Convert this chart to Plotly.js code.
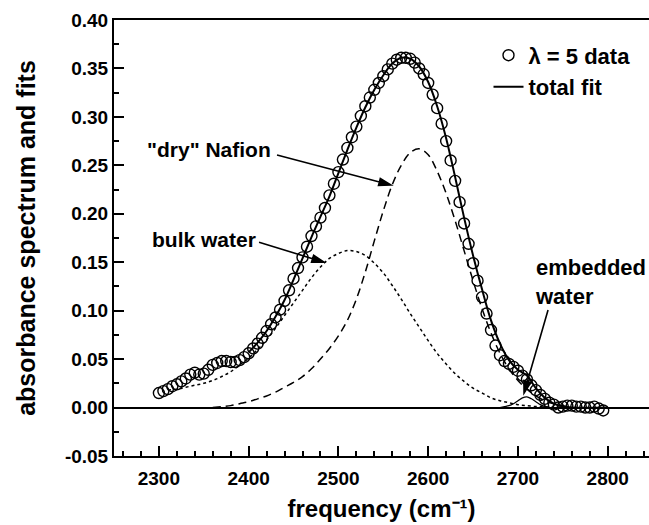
<!DOCTYPE html>
<html>
<head>
<meta charset="utf-8">
<script src="https://cdn.plot.ly/plotly-3.0.1.min.js"></script>
<style>html,body{margin:0;padding:0;background:#fff;}#chart{width:649px;height:525px;}</style>
</head>
<body>
<div id="chart"></div>
<script>
// measured spectrum (lambda = 5)
const dataX = [2300,2305,2310,2315,2320,2325,2330,2335,2340,2345,
  2350,2355,2360,2365,2370,2375,2380,2385,2390,2395,
  2400,2405,2410,2415,2420,2425,2430,2435,2440,2445,
  2450,2455,2460,2465,2470,2475,2480,2485,2490,2495,
  2500,2505,2510,2515,2520,2525,2530,2535,2540,2545,
  2550,2555,2560,2565,2570,2575,2580,2585,2590,2595,
  2600,2605,2610,2615,2620,2625,2630,2635,2640,2645,
  2650,2655,2660,2665,2670,2675,2680,2685,2690,2695,
  2700,2705,2710,2715,2720,2725,2730,2735,2740,2745,
  2750,2755,2760,2765,2770,2775,2780,2785,2790,2795];
const dataY = [0.015,0.017,0.019,0.022,0.024,0.027,0.030,0.034,0.036,0.034,
  0.035,0.039,0.044,0.046,0.048,0.048,0.047,0.047,0.049,0.052,
  0.056,0.061,0.066,0.072,0.079,0.086,0.093,0.101,0.110,0.121,
  0.133,0.144,0.155,0.166,0.177,0.187,0.196,0.206,0.219,0.231,
  0.243,0.256,0.268,0.279,0.290,0.301,0.311,0.320,0.328,0.335,
  0.342,0.349,0.355,0.359,0.361,0.361,0.360,0.356,0.350,0.344,
  0.335,0.323,0.309,0.293,0.275,0.255,0.234,0.212,0.190,0.169,
  0.149,0.131,0.114,0.097,0.080,0.064,0.054,0.048,0.045,0.042,
  0.038,0.033,0.029,0.023,0.018,0.013,0.009,0.005,0.003,0.000,
  0.001,0.002,0.002,0.001,0.001,0.000,0.000,0.001,-0.001,-0.003];

// total fit
const fitX = [2400,2410,2420,2430,2440,2450,2460,2470,2480,2490,
  2500,2510,2520,2530,2540,2550,2560,2570,2580,2590,
  2600,2610,2620,2630,2640,2650,2660,2670,2680,2690,
  2700,2710,2720,2730,2740,2750,2760,2800];
const fitY = [0.057,0.067,0.079,0.094,0.111,0.132,0.154,0.176,0.197,0.218,
  0.242,0.266,0.289,0.310,0.328,0.343,0.355,0.361,0.360,0.352,
  0.336,0.311,0.278,0.238,0.196,0.157,0.122,0.090,0.066,0.049,
  0.039,0.033,0.020,0.010,0.004,0.001,0.000,0.000];

// "dry" Nafion component
const dryX = [2360,2370,2380,2390,2400,2410,2420,2430,2440,2450,
  2460,2470,2480,2490,2500,2510,2520,2530,2540,2550,
  2560,2570,2580,2590,2600,2610,2620,2630,2640,2650,
  2660,2670,2680,2690,2700,2710,2720,2730,2740,2750,2760];
const dryY = [0.000,0.001,0.002,0.004,0.006,0.009,0.012,0.016,0.021,0.026,
  0.032,0.040,0.050,0.061,0.074,0.090,0.112,0.140,0.172,0.203,
  0.230,0.250,0.263,0.267,0.261,0.244,0.221,0.193,0.162,0.131,
  0.102,0.077,0.056,0.040,0.028,0.019,0.012,0.007,0.004,0.002,0.000];

// bulk water component
const bulkX = [2310,2320,2330,2340,2350,2360,2370,2380,2390,2400,
  2410,2420,2430,2440,2450,2460,2470,2480,2490,2500,
  2510,2520,2530,2540,2550,2560,2570,2580,2590,2600,
  2610,2620,2630,2640,2650,2660,2670,2680,2690,2700,
  2710,2720,2730,2740];
const bulkY = [0.018,0.019,0.021,0.023,0.025,0.028,0.032,0.037,0.044,0.051,
  0.060,0.070,0.082,0.095,0.108,0.121,0.134,0.145,0.154,0.159,
  0.162,0.161,0.157,0.149,0.139,0.126,0.112,0.097,0.083,0.069,
  0.056,0.045,0.035,0.027,0.020,0.015,0.010,0.007,0.005,0.003,
  0.002,0.001,0.001,0.000];

// embedded water component
const embX = [2680,2685,2690,2695,2700,2705,2710,2715,2720,2725,2730,2735,2740];
const embY = [0.000,0.001,0.002,0.004,0.007,0.010,0.011,0.009,0.006,0.003,0.001,0.000,0.000];

// axis ticks
const yTickVals = [-0.05,0.00,0.05,0.10,0.15,0.20,0.25,0.30,0.35,0.40];
const yTickText = ['-0.05','0.00','0.05','0.10','0.15','0.20','0.25','0.30','0.35','0.40'];
const xTickVals = [2300,2400,2500,2600,2700,2800];
const xTickText = ['2300','2400','2500','2600','2700','2800'];

const FONT = 'Liberation Sans, Arial, Helvetica, sans-serif';

// arrow shape: anchored at the arrow head (data coords), tail given as pixel offset (up = positive)
function arrowShape(headX, headY, tailDx, tailDy) {
  const len = Math.hypot(tailDx, tailDy);
  const ux = tailDx / len, uy = tailDy / len;
  const hl = 12, hw = 3.6;
  const bx = ux * hl, by = uy * hl;
  const px = -uy * hw, py = ux * hw;
  const f = v => v.toFixed(2);
  const path = 'M ' + f(tailDx) + ',' + f(tailDy) + ' L ' + f(bx) + ',' + f(by) +
    ' M 0,0 L ' + f(bx + px) + ',' + f(by + py) + ' L ' + f(bx - px) + ',' + f(by - py) + ' Z';
  return {type: 'path', xref: 'x', yref: 'y', xsizemode: 'pixel', ysizemode: 'pixel',
    xanchor: headX, yanchor: headY, path: path,
    line: {color: 'black', width: 1.6}, fillcolor: 'black', layer: 'above'};
}

const traces = [
  {x: bulkX, y: bulkY, mode: 'lines', showlegend: false, name: 'bulk water',
   line: {color: 'black', width: 1.5, dash: '3px,3px', shape: 'spline', smoothing: 1}},
  {x: dryX, y: dryY, mode: 'lines', showlegend: false, name: '"dry" Nafion',
   line: {color: 'black', width: 1.5, dash: '8px,5px', shape: 'spline', smoothing: 1}},
  {x: embX, y: embY, mode: 'lines', showlegend: false, name: 'embedded water',
   line: {color: 'black', width: 1.2, shape: 'spline', smoothing: 1}},
  {x: dataX, y: dataY, mode: 'markers', name: '\u03bb = 5 data',
   marker: {symbol: 'circle-open', size: 11, color: 'black', line: {width: 1.4, color: 'black'}}},
  {x: fitX, y: fitY, mode: 'lines', name: 'total fit',
   line: {color: 'black', width: 2, shape: 'spline', smoothing: 1}}
];

const axisCommon = {
  showgrid: false, showline: true, linecolor: 'black', linewidth: 2,
  ticks: 'inside', ticklen: 10, tickwidth: 2, tickcolor: 'black',
  tickfont: {family: FONT, size: 19, weight: 'bold', color: 'black'}
};

const layout = {
  width: 649, height: 525,
  margin: {l: 114, r: 0, t: 20, b: 69, pad: 0},
  paper_bgcolor: 'white', plot_bgcolor: 'white',
  font: {family: FONT, color: 'black'},
  showlegend: true,
  legend: {x: 0.70, y: 0.967, xanchor: 'left', yanchor: 'top', bgcolor: 'rgba(0,0,0,0)',
    font: {family: FONT, size: 22, weight: 'bold', color: 'black'}, tracegroupgap: 0},
  xaxis: Object.assign({}, axisCommon, {
    range: [2250, 2846], tickmode: 'array', tickvals: xTickVals, ticktext: xTickText,
    mirror: true, zeroline: false, ticklabelstandoff: 4,
    minor: {ticks: 'inside', ticklen: 5, tickwidth: 2, tickcolor: 'black', tick0: 2300, dtick: 20, showgrid: false},
    title: {text: 'frequency (cm\u207B\u00B9)', font: {family: FONT, size: 24, weight: 'bold', color: 'black'}, standoff: 12}
  }),
  yaxis: Object.assign({}, axisCommon, {
    range: [-0.05, 0.40], tickmode: 'array', tickvals: yTickVals, ticktext: yTickText,
    mirror: false, zeroline: true, zerolinecolor: 'black', zerolinewidth: 2,
    minor: {ticks: 'inside', ticklen: 5, tickwidth: 2, tickcolor: 'black', tick0: 0, dtick: 0.025, showgrid: false},
    title: {text: 'absorbance spectrum and fits', font: {family: FONT, size: 25, weight: 'bold', color: 'black'}, standoff: 22}
  }),
  shapes: [
    arrowShape(2558.6, 0.2297, -114, 30),
    arrowShape(2484, 0.150, -65, 20),
    arrowShape(2706.8, 0.015, 24, 83)
  ],
  annotations: [
    {x: 2427.5, y: 0.266, xref: 'x', yref: 'y', text: '"dry" Nafion', showarrow: false, xanchor: 'right', yanchor: 'middle',
     font: {family: FONT, size: 21, weight: 'bold', color: 'black'}},
    {x: 2410.6, y: 0.173, xref: 'x', yref: 'y', text: 'bulk water', showarrow: false, xanchor: 'right', yanchor: 'middle',
     font: {family: FONT, size: 21, weight: 'bold', color: 'black'}},
    {x: 2716.8, y: 0.1296, xref: 'x', yref: 'y', text: 'embedded<br>water', showarrow: false, xanchor: 'left', yanchor: 'middle', align: 'left',
     font: {family: FONT, size: 22, weight: 'bold', color: 'black'}}
  ]
};

Plotly.newPlot('chart', traces, layout, {displayModeBar: false, staticPlot: true});
</script>
</body>
</html>
